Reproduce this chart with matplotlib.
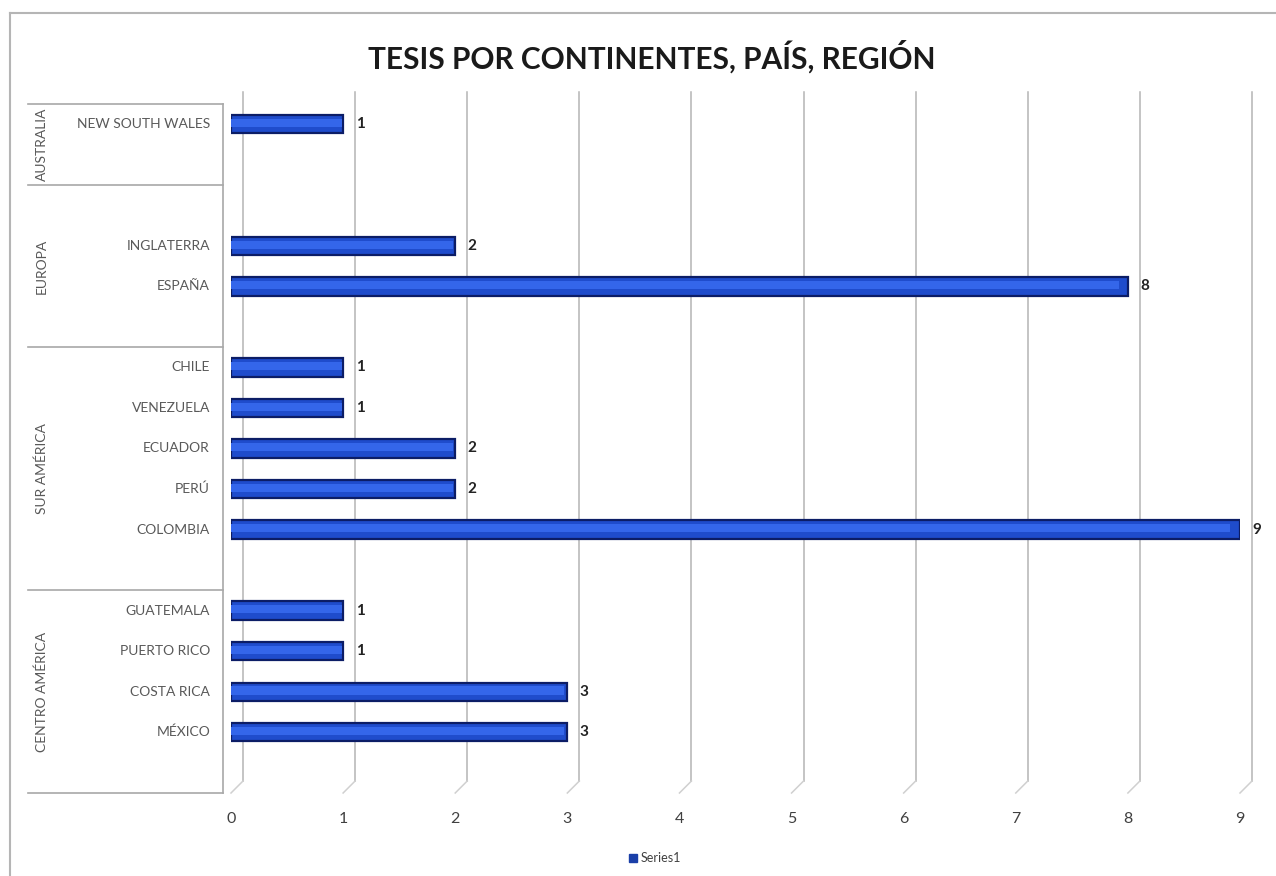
import numpy as np
import matplotlib.pyplot as plt
from matplotlib.patches import Patch
from matplotlib.lines import Line2D
import matplotlib.transforms as mtransforms

plt.rcParams["font.family"] = ["Lato", "DejaVu Sans"]

# datos (filas en blanco = huecos en la tabla de Excel)
grupos = ["AUSTRALIA", "EUROPA", "SUR AMÉRICA", "CENTRO AMÉRICA"]
paises = [
    ["NEW SOUTH WALES", ""],
    ["", "INGLATERRA", "ESPAÑA", ""],
    ["CHILE", "VENEZUELA", "ECUADOR", "PERÚ", "COLOMBIA", ""],
    ["GUATEMALA", "PUERTO RICO", "COSTA RICA", "MÉXICO", ""],
]
valores = [
    [1, np.nan],
    [np.nan, 2, 8, np.nan],
    [1, 1, 2, 2, 9, np.nan],
    [1, 1, 3, 3, np.nan],
]
serie = "Series1"

etiquetas = [p for g in paises for p in g]
vals = np.array([v for g in valores for v in g], dtype=float)
pos = np.arange(len(etiquetas))
n = len(etiquetas)

fig = plt.figure(figsize=(12.76, 8.76), dpi=100)
W, H = 1276, 876
ax = fig.add_axes([231 / W, 1 - 793 / H, (1240 - 231) / W, (793 - 104) / H])
ax.set_xlim(0, 9)
ax.set_ylim(n - 0.5, -0.5)

azul = "#1f4ccc"
borde = "#0c1d66"
ax.barh(pos, vals, height=0.45, color=azul, edgecolor=borde, linewidth=1.6, zorder=3)
# brillo del cilindro
ax.barh(pos - 0.03, vals * 0.99, height=0.2, color="#3466ea", linewidth=0, zorder=4)

for p, v in zip(pos, vals):
    if not np.isnan(v):
        ax.annotate(str(int(v)), (v, p), xytext=(9, 0), textcoords="offset points",
                    va="center", ha="left", fontsize=11, color="#222222",
                    fontweight="bold", zorder=5, annotation_clip=False)

# cuadricula de pared trasera (3D) desplazada
off = mtransforms.ScaledTranslation(12 / 100, 12 / 100, fig.dpi_scale_trans)
tback = ax.transData + off
for x in range(0, 10):
    ax.plot([x, x], [-0.5, n - 0.5], color="#b4b4b4", lw=1.1,
            transform=tback, zorder=1, clip_on=False)
fig.canvas.draw()
for x in range(0, 10):
    fx, fy = ax.transData.transform((x, n - 0.5))
    fig.add_artist(Line2D([fx, fx + 12], [fy, fy + 12], color="#d0d0d0", lw=1.1,
                          transform=None))

for s in ax.spines.values():
    s.set_visible(False)
ax.set_yticks([])
ax.set_xticks(range(0, 10))
ax.tick_params(axis="x", length=0, pad=14, labelsize=11.5, labelcolor="#404040")

# etiquetas de categoria multinivel
tb = mtransforms.blended_transform_factory(fig.transFigure, ax.transData)
for p, lab in zip(pos, etiquetas):
    if lab:
        fig.text(210 / W, p, lab, transform=tb, ha="right", va="center",
                 fontsize=10, color="#595959")

inicio = 0
bordes = [-0.5]
for g, lista in zip(grupos, paises):
    fin = inicio + len(lista)
    bordes.append(fin - 0.5)
    fig.text(42 / W, (inicio + fin - 1) / 2, g, transform=tb, rotation=90,
             ha="center", va="center", fontsize=10, color="#595959")
    inicio = fin
for b in bordes:
    fig.add_artist(Line2D([28 / W, 223 / W], [b, b], color="#a8a8a8", lw=1.2, transform=tb))
fig.add_artist(Line2D([223 / W, 223 / W], [-0.5, n - 0.5],
                      color="#a8a8a8", lw=1.2, transform=tb))

# marco exterior
fig.add_artist(Line2D([10 / W, 1], [1 - 13 / H, 1 - 13 / H], color="#b5b5b5", lw=1.5))
fig.add_artist(Line2D([10 / W, 10 / W], [0, 1 - 13 / H], color="#b5b5b5", lw=1.5))

fig.text(652 / W, 1 - 57 / H, "TESIS POR CONTINENTES, PAÍS, REGIÓN", ha="center",
         va="center", fontsize=21.5, fontweight="bold", color="#1a1a1a")

fig.legend(handles=[Patch(color="#1a3fa8", label=serie)], loc="center",
           bbox_to_anchor=(655 / W, 1 - 858 / H), frameon=False, fontsize=9,
           handlelength=0.6, handleheight=0.6, handletextpad=0.3,
           labelcolor="#404040")

fig.savefig("out.png", dpi=100)
